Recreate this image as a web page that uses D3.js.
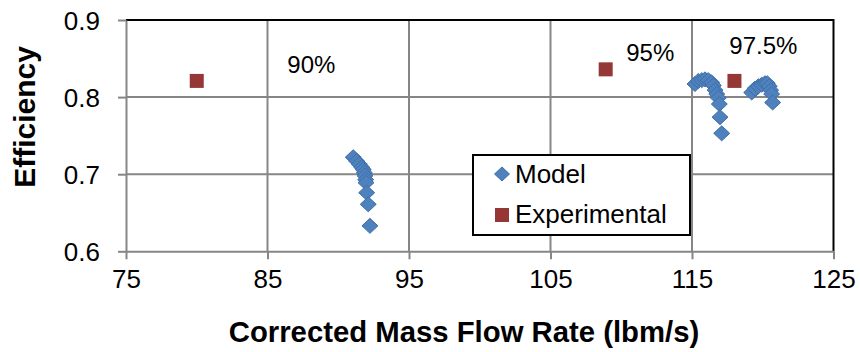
<!DOCTYPE html>
<html>
<head>
<meta charset="utf-8">
<script src="https://cdn.jsdelivr.net/npm/d3@7"></script>
<style>
  html, body { margin: 0; padding: 0; background: #fff; }
  svg { display: block; font-family: "Liberation Sans", Arial, sans-serif; }
</style>
</head>
<body>
<svg id="chart" width="860" height="352"></svg>
<script>
// Model predictions (corrected mass flow, efficiency) along three speed lines
const modelFlow = [
  91.06, 91.30, 91.49, 91.66, 91.77, 91.84, 91.89, 91.94, 91.96, 92.01, 92.12, 92.24,
  115.21, 115.45, 115.69, 115.92, 116.15, 116.39, 116.51, 116.63, 116.75, 116.86, 116.93, 116.98, 117.10,
  119.22, 119.45, 119.69, 119.93, 120.16, 120.32, 120.46, 120.56, 120.63, 120.70
];
const modelEff = [
  0.722, 0.717, 0.713, 0.709, 0.706, 0.702, 0.698, 0.693, 0.689, 0.676, 0.661, 0.633,
  0.817, 0.821, 0.822, 0.823, 0.822, 0.819, 0.815, 0.809, 0.804, 0.799, 0.791, 0.774, 0.753,
  0.806, 0.811, 0.814, 0.816, 0.818, 0.818, 0.814, 0.809, 0.804, 0.793
];
// Measured operating points
const expFlow = [80, 108.9, 118];
const expEff = [0.821, 0.836, 0.821];

// Speed-line annotations
const speedLabels = ["90%", "95%", "97.5%"];
const speedLabelFlow = [86.4, 110.35, 117.64];
const speedLabelEff = [0.8315, 0.847, 0.8555];

const xTicks = [75, 85, 95, 105, 115, 125];
const yTicks = [0.6, 0.7, 0.8, 0.9];

const svg = d3.select("#chart");
const plotLeft = 126, plotRight = 833.5, plotTop = 20, plotBottom = 251.3;

const x = d3.scaleLinear().domain([75, 125]).range([plotLeft, plotRight]);
const y = d3.scaleLinear().domain([0.6, 0.9]).range([plotBottom, plotTop]);

const gridColor = "#868686";

// gridlines
svg.append("g").selectAll("line").data(xTicks.slice(1, -1)).join("line")
  .attr("x1", d => x(d)).attr("x2", d => x(d))
  .attr("y1", plotTop).attr("y2", plotBottom)
  .attr("stroke", gridColor).attr("stroke-width", 2);
svg.append("g").selectAll("line").data(yTicks.slice(1, -1)).join("line")
  .attr("x1", plotLeft).attr("x2", plotRight)
  .attr("y1", d => y(d)).attr("y2", d => y(d))
  .attr("stroke", gridColor).attr("stroke-width", 2);

// plot-area frame: top and right edges
svg.append("path")
  .attr("d", `M${plotLeft},${plotTop}H${plotRight}V${plotBottom}`)
  .attr("fill", "none").attr("stroke", "#000").attr("stroke-width", 2);

// x axis
const xAxis = svg.append("g").attr("transform", `translate(0,${plotBottom})`)
  .call(d3.axisBottom(x).tickValues(xTicks).tickSize(8).tickPadding(10).tickSizeOuter(0));
// y axis
const yAxis = svg.append("g").attr("transform", `translate(${plotLeft},0)`)
  .call(d3.axisLeft(y).tickValues(yTicks).tickSize(8).tickPadding(18).tickSizeOuter(0)
    .tickFormat(d3.format(".1f")));

[xAxis, yAxis].forEach(g => {
  g.select(".domain").attr("stroke", gridColor).attr("stroke-width", 2);
  g.selectAll(".tick line").attr("stroke", gridColor).attr("stroke-width", 2);
  g.selectAll(".tick text")
    .attr("font-family", "Liberation Sans, Arial, sans-serif")
    .attr("font-size", 26).attr("fill", "#000");
});
yAxis.selectAll(".tick text").attr("dy", "0.36em");

// axis titles
svg.append("text")
  .attr("x", 464).attr("y", 342)
  .attr("text-anchor", "middle")
  .attr("font-size", 29.3).attr("font-weight", "bold")
  .text("Corrected Mass Flow Rate (lbm/s)");
svg.append("text")
  .attr("transform", "translate(35,117) rotate(-90)")
  .attr("text-anchor", "middle")
  .attr("font-size", 30).attr("font-weight", "bold")
  .text("Efficiency");

const diamond = "M0,-7.5L8,0L0,7.5L-8,0Z";
const modelFill = "#4F81BD", modelStroke = "#3F70AA";
const expFill = "#953735";

// model points
svg.append("g").selectAll("path").data(modelFlow.map((f, i) => [f, modelEff[i]])).join("path")
  .attr("d", diamond)
  .attr("transform", d => `translate(${x(d[0])},${y(d[1])})`)
  .attr("fill", modelFill).attr("stroke", modelStroke).attr("stroke-width", 1);

// experimental points
svg.append("g").selectAll("rect").data(expFlow.map((f, i) => [f, expEff[i]])).join("rect")
  .attr("x", d => x(d[0]) - 7).attr("y", d => y(d[1]) - 7)
  .attr("width", 14).attr("height", 14)
  .attr("fill", expFill);

// speed-line labels
svg.append("g").selectAll("text").data(speedLabels).join("text")
  .attr("x", (d, i) => x(speedLabelFlow[i]))
  .attr("y", (d, i) => y(speedLabelEff[i]))
  .attr("font-size", 24).attr("fill", "#000")
  .text(d => d);

// legend
const legend = svg.append("g").attr("transform", "translate(473,155)");
legend.append("rect")
  .attr("width", 217).attr("height", 80)
  .attr("fill", "#fff").attr("stroke", "#000").attr("stroke-width", 2);
legend.append("path").attr("d", "M0,-7L7.5,0L0,7L-7.5,0Z")
  .attr("transform", "translate(29,19)")
  .attr("fill", modelFill).attr("stroke", modelStroke);
legend.append("text").attr("x", 42).attr("y", 28)
  .attr("font-size", 26).text("Model");
legend.append("rect").attr("x", 22).attr("y", 53).attr("width", 14).attr("height", 14)
  .attr("fill", expFill);
legend.append("text").attr("x", 42).attr("y", 68)
  .attr("font-size", 26).text("Experimental");
</script>
</body>
</html>
